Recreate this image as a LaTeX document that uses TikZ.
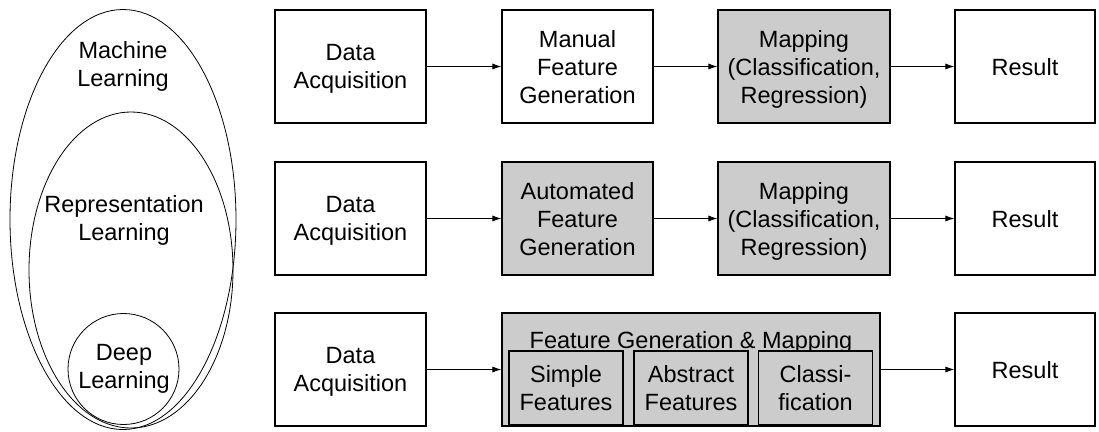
\documentclass[tikz,border=0pt]{standalone}
\usepackage{fontspec}
\setmainfont{Liberation Sans}
\usetikzlibrary{arrows.meta}
\begin{document}
\begin{tikzpicture}[x=1pt,y=-1pt,
  txt/.style={align=center,font=\fontsize{23.5}{28}\selectfont,inner sep=0pt,text depth=0pt},
  box/.style={txt,draw,line width=1.1pt,minimum height=113pt},
  grey/.style={fill=black!20},
  inner/.style={box,grey,minimum width=114pt,minimum height=74pt},
  flow/.style={-{Latex[length=9pt,width=6pt]},line width=0.9pt}]
\useasboundingbox (0,0) rectangle (1099,431);

% nested sets of learning approaches
\draw[line width=0.8pt] (123,219.5) ellipse [x radius=113, y radius=210];
\draw[line width=0.8pt] (131,270) ellipse [x radius=102, y radius=158];
\draw[line width=0.8pt] (123.5,369) circle [radius=55.5];
\node[txt] (ml) at (123,64) {Machine\\Learning};
\node[txt] (rl) at (124,217.5) {Representation\\Learning};
\node[txt] (dl) at (124,366) {Deep\\Learning};

% row 1: classical machine learning
\node[box,minimum width=151pt] (da1) at (350.5,66.5) {Data\\Acquisition};
\node[box,minimum width=151pt] (fg1) at (577.5,66.5) {Manual\\Feature\\Generation};
\node[box,grey,minimum width=172pt] (mp1) at (804,66.5) {Mapping\\(Classification,\\Regression)};
\node[box,minimum width=140pt] (rs1) at (1025,66.5) {Result};

% row 2: representation learning
\node[box,minimum width=151pt] (da2) at (350.5,218.5) {Data\\Acquisition};
\node[box,grey,minimum width=151pt] (fg2) at (577.5,218.5) {Automated\\Feature\\Generation};
\node[box,grey,minimum width=172pt] (mp2) at (804,218.5) {Mapping\\(Classification,\\Regression)};
\node[box,minimum width=140pt] (rs2) at (1025,218.5) {Result};

% row 3: deep learning
\node[box,minimum width=151pt] (da3) at (350.5,369.5) {Data\\Acquisition};
\node[box,grey,minimum width=378pt] (fm3) at (691,369.5) {};
\node[txt] (fmt) at (691,339.5) {Feature Generation \& Mapping};
\node[inner] (sf) at (566,388) {Simple\\Features};
\node[inner] (af) at (691,388) {Abstract\\Features};
\node[inner] (cl) at (815.5,388) {Classi-\\fication};
\node[box,minimum width=140pt] (rs3) at (1025,369.5) {Result};

\draw[flow] (da1) -- (fg1);
\draw[flow] (fg1) -- (mp1);
\draw[flow] (mp1) -- (rs1);
\draw[flow] (da2) -- (fg2);
\draw[flow] (fg2) -- (mp2);
\draw[flow] (mp2) -- (rs2);
\draw[flow] (da3) -- (fm3);
\draw[flow] (fm3) -- (rs3);
\end{tikzpicture}
\end{document}
